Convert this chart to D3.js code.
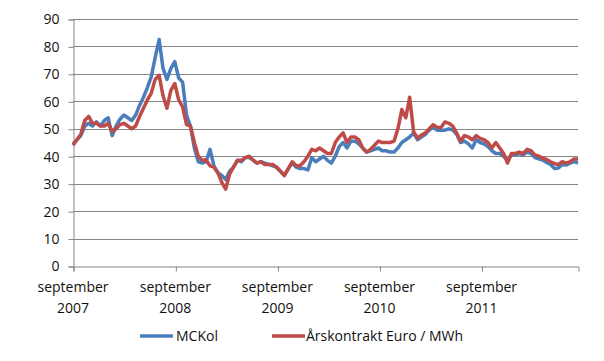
<!DOCTYPE html>
<html>
<head>
<meta charset="utf-8">
<script src="https://cdn.jsdelivr.net/npm/d3@7"></script>
<style>
  html, body { margin: 0; padding: 0; background: #fff; }
  svg { display: block; }
  text { font-family: "Open Sans", Lato, sans-serif; fill: #111; }
</style>
</head>
<body>
<svg id="chart" width="604" height="361"></svg>
<script>
// ---- data (bi-weekly samples starting September 2007) ----
const startDate = "2007-09-01";
const stepDays = 14;
const mcKol = [
  44.5, 46, 47.5, 51, 52, 51, 52.5, 51, 53, 54,
  47.5, 51, 53.5, 55, 54, 53, 55, 58.5, 61.5, 65,
  69, 76, 82.5, 72, 68, 72, 74.5, 68.5, 67, 55,
  51, 43, 38, 37.5, 38, 42.5, 36.5, 34, 33, 31.5,
  34.5, 36, 38.5, 38, 39.5, 39.5, 38.6, 37.5, 38, 37.5,
  37, 36.5, 36, 34.5, 33, 35.5, 37.5, 36, 35.5, 35.5,
  35, 39.5, 38, 39, 40, 38.5, 37.5, 40, 43.5, 45,
  43, 45.5, 45.5, 44.5, 43, 41.5, 42, 42.5, 43, 42,
  42, 41.5, 41.5, 43, 45, 46, 47, 48.5, 46, 47,
  48, 49.5, 50.5, 49.5, 49.5, 49.5, 50, 49.5, 48, 45,
  45.5, 44.5, 43, 46, 45, 44.5, 43.5, 42, 41, 41,
  40, 38.5, 40.5, 40.5, 41, 40.5, 41.5, 41, 39.5, 39,
  38.6, 37.7, 37, 35.5, 35.7, 37, 36.8, 37.5, 38, 37.5
];
const arskontrakt = [
  44, 46, 48, 53, 54.5, 52, 52, 51, 51, 52,
  49, 50, 51.5, 52, 51, 50, 51, 54.5, 57.5, 60.5,
  63, 68, 69.5, 62, 57.5, 64, 66.5, 60.5, 58, 51.5,
  51, 45, 40, 38.5, 38.6, 36.5, 36, 34, 30.5, 28,
  33.5, 36, 38.5, 38.5, 39.5, 40, 38.6, 37.5, 38, 37,
  37, 37, 36, 34.5, 33, 35.5, 38, 36.5, 36.5, 38,
  40, 42.5, 42, 43, 42, 41, 41, 45, 47, 48.5,
  45, 47, 47, 46, 43, 41.5, 42.5, 44, 45.5, 45,
  45, 45, 45.5, 50, 57, 54, 61.5, 49, 46.6, 47.7,
  48.5, 50, 51.5, 50.6, 50.5, 52.5, 52, 51, 48.5, 45.5,
  47.5, 47, 46, 47.5, 46.5, 46, 45, 43, 45, 43,
  41, 37.5, 41, 41, 41.5, 41, 42.5, 42, 40.5, 40,
  39.3, 38.8, 38, 37.3, 37, 38, 37.5, 38, 39, 39
];
const seriesNames = ["MCKol", "Årskontrakt Euro / MWh"];
const yTicks = [0, 10, 20, 30, 40, 50, 60, 70, 80, 90];
const xTickYears = [2007, 2008, 2009, 2010, 2011];
const xTickMonthLabel = "september";

// ---- build ----
const parse = d3.timeParse("%Y-%m-%d");
const t0 = parse(startDate);
const dates = mcKol.map((_, i) => d3.timeDay.offset(t0, i * stepDays));

const svg = d3.select("#chart");
const mLeft = 73, mRight = 578, mTop = 19, mBottom = 266;

const x = d3.scaleTime().domain([t0, dates[dates.length - 1]]).range([mLeft, mRight]);
const y = d3.scaleLinear().domain([0, 90]).range([mBottom, mTop]);

// gridlines
svg.append("g").selectAll("line").data(yTicks.filter(d => d > 0)).join("line")
  .attr("x1", mLeft).attr("x2", mRight)
  .attr("y1", d => Math.round(y(d)) + 0.5).attr("y2", d => Math.round(y(d)) + 0.5)
  .attr("stroke", "#868686").attr("stroke-width", 1);

// y axis
const yAxis = d3.axisLeft(y).tickValues(yTicks).tickSize(5).tickPadding(9).tickFormat(d3.format("d"));
const gy = svg.append("g").attr("transform", `translate(${mLeft + 0.5},0.5)`).call(yAxis);
gy.select(".domain").attr("stroke", "#868686");
gy.selectAll(".tick line").attr("stroke", "#868686");
gy.selectAll(".tick text").attr("font-size", 14).attr("font-family", "'Open Sans', sans-serif").attr("fill", "#111");

// x axis
const xTickDates = xTickYears.map(yr => new Date(yr, 8, 1));
const xAxis = d3.axisBottom(x).tickValues(xTickDates).tickSize(5).tickFormat(() => "");
const gx = svg.append("g").attr("transform", `translate(0.5,${mBottom + 0.5})`).call(xAxis);
gx.select(".domain").attr("stroke", "#868686");
gx.selectAll(".tick line").attr("stroke", "#868686");

const xl = svg.append("g").selectAll("text").data(xTickDates).join("text")
  .attr("text-anchor", "middle").attr("font-size", 14);
xl.append("tspan").attr("x", d => x(d)).attr("y", 292).text(xTickMonthLabel);
xl.append("tspan").attr("x", d => x(d)).attr("y", 313).text(d => d.getFullYear());

// lines
const colors = ["#4a7ebb", "#be4b48"];
const line = d3.line().x((d, i) => x(dates[i])).y(d => y(d));
[mcKol, arskontrakt].forEach((s, k) => {
  svg.append("path").datum(s)
    .attr("fill", "none").attr("stroke", colors[k]).attr("stroke-width", 3.5)
    .attr("stroke-linejoin", "round").attr("d", line);
});

// legend
const legend = [
  {x1: 140, x2: 173, tx: 176},
  {x1: 272, x2: 305, tx: 306}
];
legend.forEach((l, k) => {
  svg.append("line").attr("x1", l.x1).attr("x2", l.x2).attr("y1", 336).attr("y2", 336)
    .attr("stroke", colors[k]).attr("stroke-width", 3.5);
  svg.append("text").attr("x", l.tx).attr("y", 341).attr("font-size", 14).text(seriesNames[k]);
});
</script>
</body>
</html>
